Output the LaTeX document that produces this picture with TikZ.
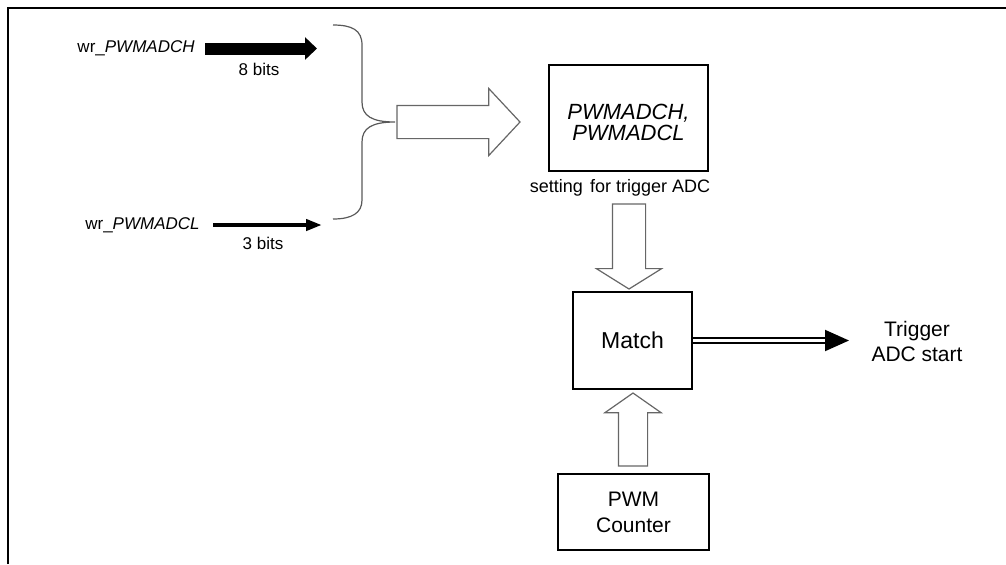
\documentclass[tikz,border=0pt]{standalone}
\usepackage{fontspec}
\setmainfont{Liberation Sans}
\usetikzlibrary{arrows.meta,shapes.arrows}

\begin{document}
\begin{tikzpicture}[
    x=0.5pt, y=-0.5pt,
    blocco/.style={draw, line width=1.1pt, inner sep=0pt, align=center, font=\fontsize{10.5}{13}\selectfont},
    freccia/.style={single arrow, draw=black!60, line width=0.6pt, fill=white, inner xsep=0pt, outer sep=0pt, minimum width=0pt, single arrow head indent=0pt, anchor=tail},
    scritta/.style={font=\fontsize{8.5}{10}\selectfont, inner sep=0pt},
    bus/.style={-{Triangle[length=6pt, width=11pt]}, line width=6pt},
    filo/.style={-{Triangle[length=8pt, width=5.5pt]}, line width=2pt},
    doppia/.style={draw=black, double=white, line width=1pt, double distance=1.2pt, -{Triangle[length=12pt, width=10.5pt]}}
]
    \useasboundingbox (0,0) rectangle (1006,564);

    % Cornice
    \draw[line width=1pt] (7.5,564) -- (7.5,7.5) -- (1006,7.5);

    % Ingressi di scrittura
    \node[scritta, anchor=east] (wrH) at (195,48.5) {wr\_\textit{PWMADCH}};
    \coordinate (fineH) at (317,48.5);
    \draw[bus, shorten <=5pt] (wrH.east) -- (fineH);
    \node[scritta] (bitH) at (259,69) {8 bits};

    \node[scritta, anchor=east] (wrL) at (200,225) {wr\_\textit{PWMADCL}};
    \coordinate (fineL) at (322,225);
    \draw[filo, shorten <=6.5pt] (wrL.east) -- (fineL);
    \node[scritta] (bitL) at (263,243) {3 bits};

    % Graffa
    \draw[black!65, line width=0.6pt] (333,25) .. controls (352,25) and (362,30) .. (362,45)
        -- (362,102) .. controls (362,116) and (372,122) .. (395,122)
        .. controls (372,122) and (362,128) .. (362,142)
        -- (362,200) .. controls (362,213) and (352,219) .. (333,219);

    % Registri
    \node[blocco, line width=1.2pt, minimum width=79.5pt, minimum height=53pt, text height=22.4pt,
          font=\itshape\fontsize{11}{10.5}\selectfont] (registro) at (628.5,118) {PWMADCH,\\PWMADCL};
    \node[scritta, font=\fontsize{9}{11}\selectfont] (nota) at (620,188) {setting\hspace{0.4em}for trigger ADC};

    % Confronto e contatore
    \node[blocco, line width=1pt, minimum width=59.5pt, minimum height=48.5pt,
          font=\fontsize{11.5}{13}\selectfont] (confronto) at (632.5,340.5) {Match};
    \node[blocco, minimum width=75.5pt, minimum height=38pt] (contatore) at (633.5,512) {PWM\\Counter};

    % Frecce cave
    \node[freccia, inner ysep=8pt, single arrow head extend=8.5pt, single arrow tip angle=94,
          minimum height=61.5pt] (ingresso) at (397,122) {};
    \node[freccia, rotate=-90, inner ysep=8pt, single arrow head extend=8pt, single arrow tip angle=116,
          minimum height=42.5pt] (discesa) at (629,204) {};
    \node[freccia, rotate=90, inner ysep=7pt, single arrow head extend=6.75pt, single arrow tip angle=110,
          minimum height=36.5pt] (salita) at (633,466) {};

    % Uscita
    \node[align=center, font=\fontsize{10.5}{12.5}\selectfont] (trigger) at (917,341) {Trigger\\ADC start};
    \coordinate (fineT) at (849,340.5);
    \draw[doppia] (confronto.east) -- (fineT);

\end{tikzpicture}
\end{document}
